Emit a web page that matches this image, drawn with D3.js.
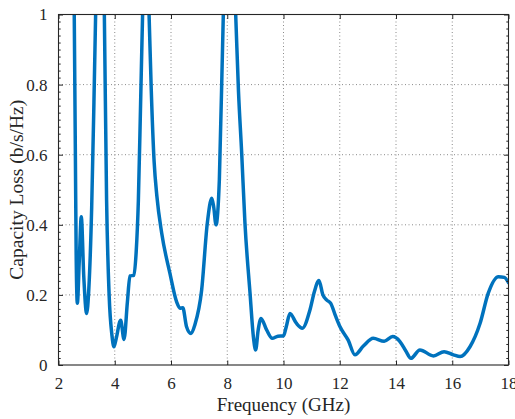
<!DOCTYPE html>
<html>
<head>
<meta charset="utf-8">
<script src="https://cdn.jsdelivr.net/npm/d3@7"></script>
<style>
  html, body { margin: 0; padding: 0; background: #fff; }
  svg { display: block; }
  text { font-family: "Liberation Serif", "Times New Roman", serif; fill: #262626; }
</style>
</head>
<body>
<svg id="chart" width="515" height="419"></svg>
<script>
// ---- data ----
const freqGHz = [2.50, 2.56, 2.60, 2.63, 2.67, 2.74, 2.81, 2.90, 3.00, 3.08, 3.18, 3.26, 3.32, 3.47, 3.63, 3.71, 3.80, 3.90, 3.97, 4.05, 4.21, 4.33, 4.45, 4.54, 4.68, 4.76, 4.84, 4.92, 4.99, 5.10, 5.22, 5.30, 5.40, 5.50, 5.67, 5.96, 6.20, 6.32, 6.42, 6.55, 6.71, 6.85, 7.09, 7.29, 7.45, 7.52, 7.60, 7.72, 7.86, 8.08, 8.30, 8.40, 8.51, 8.63, 8.81, 8.93, 9.01, 9.10, 9.20, 9.40, 9.60, 9.80, 10.00, 10.10, 10.23, 10.45, 10.67, 10.94, 11.10, 11.26, 11.40, 11.54, 11.68, 11.85, 12.01, 12.30, 12.54, 12.84, 13.19, 13.58, 13.88, 14.14, 14.35, 14.53, 14.85, 15.33, 15.71, 16.04, 16.28, 16.63, 16.99, 17.28, 17.64, 17.85, 18.00];
const capacityLoss = [1.60, 1.00, 0.60, 0.30, 0.176, 0.30, 0.423, 0.25, 0.147, 0.22, 0.45, 0.75, 1.00, 1.60, 1.00, 0.47, 0.20, 0.085, 0.052, 0.075, 0.128, 0.073, 0.18, 0.254, 0.256, 0.32, 0.47, 0.75, 1.00, 1.30, 1.00, 0.78, 0.58, 0.48, 0.376, 0.262, 0.180, 0.162, 0.163, 0.11, 0.090, 0.115, 0.214, 0.404, 0.476, 0.45, 0.400, 0.53, 1.00, 1.40, 1.00, 0.78, 0.61, 0.404, 0.205, 0.08, 0.043, 0.10, 0.133, 0.10, 0.076, 0.082, 0.083, 0.11, 0.147, 0.12, 0.105, 0.157, 0.21, 0.241, 0.20, 0.185, 0.176, 0.14, 0.109, 0.071, 0.029, 0.054, 0.076, 0.068, 0.081, 0.067, 0.040, 0.019, 0.043, 0.026, 0.038, 0.029, 0.024, 0.052, 0.119, 0.205, 0.252, 0.250, 0.235];
const xTicks = [2, 4, 6, 8, 10, 12, 14, 16, 18];
const yTicks = [0, 0.2, 0.4, 0.6, 0.8, 1];
const yTickLabels = ["0", "0.2", "0.4", "0.6", "0.8", "1"];
const xLabel = "Frequency (GHz)";
const yLabel = "Capacity Loss (b/s/Hz)";

// ---- layout ----
const svg = d3.select("#chart");
const L = 58.5, R = 508.5, T = 14.5, B = 365;
const x = d3.scaleLinear().domain([2, 18]).range([L, R]);
const y = d3.scaleLinear().domain([0, 1]).range([B, T]);
const axisColor = "#262626";

// grid
const grid = svg.append("g");
grid.selectAll("line.vg").data(xTicks.slice(1, -1)).enter().append("line")
  .attr("x1", d => x(d)).attr("x2", d => x(d)).attr("y1", T).attr("y2", B)
  .attr("stroke", "#8a8a8a").attr("stroke-width", 1).attr("stroke-dasharray", "1,2.5");
grid.selectAll("line.hg").data(yTicks.slice(1, -1)).enter().append("line")
  .attr("y1", d => y(d)).attr("y2", d => y(d)).attr("x1", L).attr("x2", R)
  .attr("stroke", "#8a8a8a").attr("stroke-width", 1).attr("stroke-dasharray", "1,2.5");

// data line
svg.append("clipPath").attr("id", "clip").append("rect")
  .attr("x", L).attr("y", T).attr("width", R - L).attr("height", B - T);
const data = freqGHz.map((f, i) => [f, capacityLoss[i]]);
const line = d3.line().x(d => x(d[0])).y(d => y(d[1])).curve(d3.curveMonotoneX);
svg.append("path").datum(data)
  .attr("clip-path", "url(#clip)")
  .attr("d", line)
  .attr("fill", "none")
  .attr("stroke", "#0072BD")
  .attr("stroke-width", 3.5)
  .attr("stroke-linejoin", "round")
  .attr("stroke-linecap", "round");

// axes (ticks inside, box)
const tickLen = 4.5;
const axB = svg.append("g").attr("transform", `translate(0,${B})`)
  .call(d3.axisBottom(x).tickValues(xTicks).tickSizeInner(-tickLen).tickSizeOuter(0).tickPadding(12).tickFormat(d3.format("d")));
const axT = svg.append("g").attr("transform", `translate(0,${T})`)
  .call(d3.axisTop(x).tickValues(xTicks).tickSizeInner(-tickLen).tickSizeOuter(0).tickFormat(""));
const axL = svg.append("g").attr("transform", `translate(${L},0)`)
  .call(d3.axisLeft(y).tickValues(yTicks).tickSizeInner(-tickLen).tickSizeOuter(0).tickPadding(11).tickFormat((d, i) => yTickLabels[i]));
const axR = svg.append("g").attr("transform", `translate(${R},0)`)
  .call(d3.axisRight(y).tickValues(yTicks).tickSizeInner(-tickLen).tickSizeOuter(0).tickFormat(""));

// minor ticks on y
const minor = d3.range(0, 1.0001, 0.02).filter(v => Math.abs(v * 5 - Math.round(v * 5)) > 1e-6);
const axLm = svg.append("g").attr("transform", `translate(${L},0)`)
  .call(d3.axisLeft(y).tickValues(minor).tickSize(-2.2).tickFormat(""));
const axRm = svg.append("g").attr("transform", `translate(${R},0)`)
  .call(d3.axisRight(y).tickValues(minor).tickSize(-2.2).tickFormat(""));

[axB, axT, axL, axR, axLm, axRm].forEach(g => {
  g.selectAll(".domain").remove();
  g.selectAll("line").attr("stroke", axisColor).attr("stroke-width", 1);
  g.selectAll("text").attr("fill", axisColor).style("font-size", "17px")
    .style("font-family", '"Liberation Serif", "Times New Roman", serif');
});

// box
svg.append("rect").attr("x", L).attr("y", T).attr("width", R - L).attr("height", B - T)
  .attr("fill", "none").attr("stroke", axisColor).attr("stroke-width", 1.1);

// labels
svg.append("text").attr("x", (L + R) / 2).attr("y", 411)
  .attr("text-anchor", "middle").style("font-size", "19px").text(xLabel);
svg.append("text").attr("transform", `translate(23,${(T + B) / 2}) rotate(-90)`)
  .attr("text-anchor", "middle").style("font-size", "19.5px").text(yLabel);
</script>
</body>
</html>
